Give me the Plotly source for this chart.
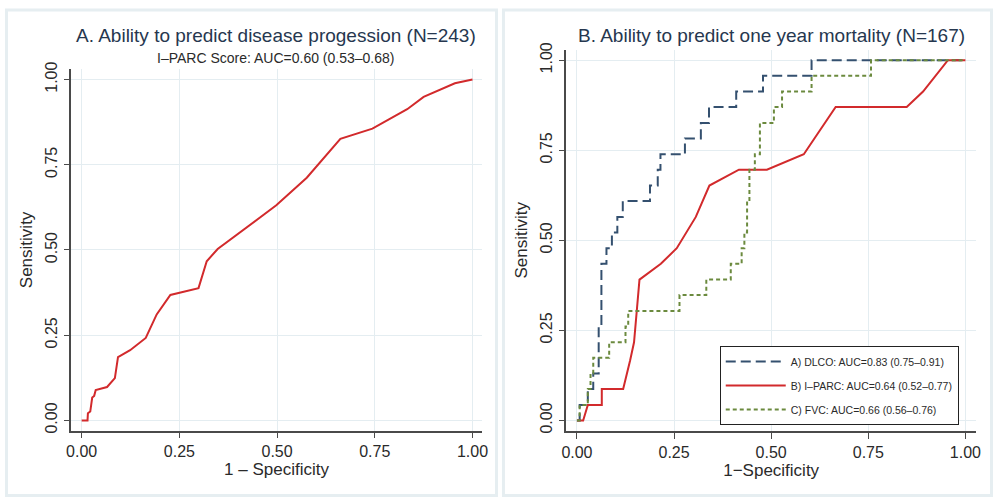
import plotly.graph_objects as go

# ---------------- Data ----------------
# Panel A: I-PARC score ROC for disease progression (N=243)
a_fpr = [0, 0.015, 0.016, 0.022, 0.027, 0.032, 0.036, 0.065, 0.085, 0.093, 0.124, 0.164,
         0.192, 0.227, 0.299, 0.320, 0.348, 0.498, 0.576, 0.662, 0.744, 0.833, 0.875,
         0.955, 1.0]
a_sens = [0, 0, 0.021, 0.026, 0.067, 0.072, 0.089, 0.098, 0.124, 0.186, 0.206, 0.242,
          0.311, 0.368, 0.388, 0.467, 0.503, 0.631, 0.712, 0.826, 0.856, 0.913, 0.949,
          0.989, 1.0]

# Panel B: one-year mortality (N=167)
dlco_fpr = [0, 0.007, 0.007, 0.028, 0.028, 0.042, 0.042, 0.056, 0.056, 0.063, 0.063,
            0.076, 0.076, 0.090, 0.090, 0.104, 0.104, 0.118, 0.118, 0.188, 0.188, 0.208,
            0.208, 0.215, 0.215, 0.278, 0.278, 0.319, 0.319, 0.340, 0.340, 0.410, 0.410,
            0.479, 0.479, 0.604, 0.604, 1.0]
dlco_sens = [0, 0, 0.043, 0.043, 0.087, 0.087, 0.130, 0.130, 0.261, 0.261, 0.435,
             0.435, 0.478, 0.478, 0.522, 0.522, 0.565, 0.565, 0.609, 0.609, 0.652, 0.652,
             0.696, 0.696, 0.739, 0.739, 0.783, 0.783, 0.826, 0.826, 0.870, 0.870, 0.913,
             0.913, 0.957, 0.957, 1.0, 1.0]

iparc_fpr = [0, 0.016, 0.028, 0.064, 0.064, 0.119, 0.137, 0.147, 0.161, 0.216, 0.257,
             0.306, 0.341, 0.417, 0.489, 0.584, 0.666, 0.849, 0.891, 0.955, 1.0]
iparc_sens = [0, 0, 0.043, 0.043, 0.087, 0.087, 0.167, 0.217, 0.391, 0.435, 0.478,
              0.565, 0.652, 0.696, 0.696, 0.739, 0.870, 0.870, 0.913, 1.0, 1.0]

fvc_fpr = [0, 0.007, 0.007, 0.028, 0.028, 0.035, 0.035, 0.042, 0.042, 0.083, 0.083,
           0.125, 0.125, 0.132, 0.132, 0.264, 0.264, 0.333, 0.333, 0.396, 0.396, 0.424,
           0.424, 0.431, 0.431, 0.438, 0.438, 0.444, 0.444, 0.458, 0.458, 0.471, 0.471,
           0.507, 0.507, 0.528, 0.528, 0.604, 0.604, 0.757, 0.757, 1.0]
fvc_sens = [0, 0, 0.043, 0.043, 0.087, 0.087, 0.130, 0.130, 0.174, 0.174, 0.217,
            0.217, 0.261, 0.261, 0.304, 0.304, 0.348, 0.348, 0.391, 0.391, 0.435, 0.435,
            0.478, 0.478, 0.522, 0.522, 0.609, 0.609, 0.696, 0.696, 0.739, 0.739, 0.826,
            0.826, 0.870, 0.870, 0.913, 0.913, 0.957, 0.957, 1.0, 1.0]

legend_labels = ["A) DLCO: AUC=0.83 (0.75\u20130.91)",
                 "B) I\u2013PARC: AUC=0.64 (0.52\u20130.77)",
                 "C) FVC: AUC=0.66 (0.56\u20130.76)"]

tick_vals = [0, 0.25, 0.5, 0.75, 1.0]
tick_text = ["0.00", "0.25", "0.50", "0.75", "1.00"]

title_a = "A. Ability to predict disease progession (N=243)"
subtitle_a = "I\u2013PARC Score: AUC=0.60 (0.53\u20130.68)"
title_b = "B. Ability to predict one year mortality (N=167)"

# ---------------- Styles ----------------
FONT = "Liberation Sans, Arial, Helvetica, sans-serif"
RED = "#d22a2c"
BLUE = "#34506f"
GREEN = "#6b8a3e"
GRID = "#e4edf1"
AXIS = "#4a4a4a"
TEXT = "#2a2a2a"
TITLE = "#26374f"

fig = go.Figure()

fig.add_trace(go.Scatter(x=a_fpr, y=a_sens, mode="lines",
                         line=dict(color=RED, width=2),
                         showlegend=False, xaxis="x", yaxis="y"))

fig.add_trace(go.Scatter(x=dlco_fpr, y=dlco_sens, mode="lines", name=legend_labels[0],
                         line=dict(color=BLUE, width=2, dash="10px,5px"),
                         legendgroup="a", xaxis="x2", yaxis="y2"))
fig.add_trace(go.Scatter(x=iparc_fpr, y=iparc_sens, mode="lines", name=legend_labels[1],
                         line=dict(color=RED, width=2),
                         legendgroup="b", xaxis="x2", yaxis="y2"))
fig.add_trace(go.Scatter(x=fvc_fpr, y=fvc_sens, mode="lines", name=legend_labels[2],
                         line=dict(color=GREEN, width=2, dash="4px,3px"),
                         legendgroup="c", xaxis="x2", yaxis="y2"))

W, H = 999, 501


def xaxis_cfg(domain, rng, title, anchor):
    return dict(domain=domain, range=rng, anchor=anchor,
                tickmode="array", tickvals=tick_vals, ticktext=tick_text,
                showgrid=True, gridcolor=GRID, gridwidth=1, zeroline=False,
                showline=True, linecolor=AXIS, linewidth=1.5,
                ticks="outside", ticklen=6, tickwidth=1.3, tickcolor=AXIS,
                tickfont=dict(family=FONT, size=16, color=TEXT),
                title=dict(text=title, font=dict(family=FONT, size=17, color=TEXT),
                           standoff=4))


def yaxis_cfg(domain, rng, anchor):
    return dict(domain=domain, range=rng, anchor=anchor,
                tickmode="array", tickvals=tick_vals, ticktext=tick_text,
                tickangle=-90,
                showgrid=True, gridcolor=GRID, gridwidth=1, zeroline=False,
                showline=True, linecolor=AXIS, linewidth=1.5,
                ticks="outside", ticklen=6, tickwidth=1.3, tickcolor=AXIS,
                tickfont=dict(family=FONT, size=16, color=TEXT),
                title=dict(text="Sensitivity", font=dict(family=FONT, size=17, color=TEXT),
                           standoff=6))


fig.update_layout(
    width=W, height=H,
    margin=dict(l=0, r=0, t=0, b=0),
    paper_bgcolor="white", plot_bgcolor="white",
    font=dict(family=FONT, color=TEXT),
    xaxis=xaxis_cfg([67 / W, 482 / W], [-0.0266, 1.0236], "1 \u2013 Specificity", "y"),
    yaxis=yaxis_cfg([1 - 432 / H, 1 - 62.7 / H], [-0.0296, 1.030], "x"),
    xaxis2=xaxis_cfg([567.7 / W, 981.7 / W], [-0.027, 1.027], "1\u2212Specificity", "y2"),
    yaxis2=yaxis_cfg([1 - 432.3 / H, 1 - 42.7 / H], [-0.0288, 1.029], "x2"),
    legend=dict(x=722.7 / W, y=1 - 345.7 / H, xanchor="left", yanchor="top",
                bgcolor="white", bordercolor="#222222", borderwidth=1,
                font=dict(family=FONT, size=10.5, color=TEXT),
                tracegroupgap=5, itemwidth=60),
    shapes=[
        dict(type="rect", xref="paper", yref="paper", layer="below",
             x0=1.5 / W, x1=497 / W, y0=1 - 498.5 / H, y1=1 - 2 / H,
             line=dict(color="#e6eef1", width=3), fillcolor="white"),
        dict(type="rect", xref="paper", yref="paper", layer="below",
             x0=504 / W, x1=997.5 / W, y0=1 - 498.5 / H, y1=1 - 2 / H,
             line=dict(color="#e6eef1", width=3), fillcolor="white"),
    ],
    annotations=[
        dict(text=title_a, xref="paper", yref="paper", x=274 / W, y=1 - 28 / H,
             xanchor="center", yanchor="middle", showarrow=False,
             font=dict(family=FONT, size=19, color=TITLE)),
        dict(text=subtitle_a, xref="paper", yref="paper", x=274 / W, y=1 - 51 / H,
             xanchor="center", yanchor="middle", showarrow=False,
             font=dict(family=FONT, size=14, color=TEXT)),
        dict(text=title_b, xref="paper", yref="paper", x=775 / W, y=1 - 28 / H,
             xanchor="center", yanchor="middle", showarrow=False,
             font=dict(family=FONT, size=19, color=TITLE)),
    ],
)

fig.write_html("out.html")
